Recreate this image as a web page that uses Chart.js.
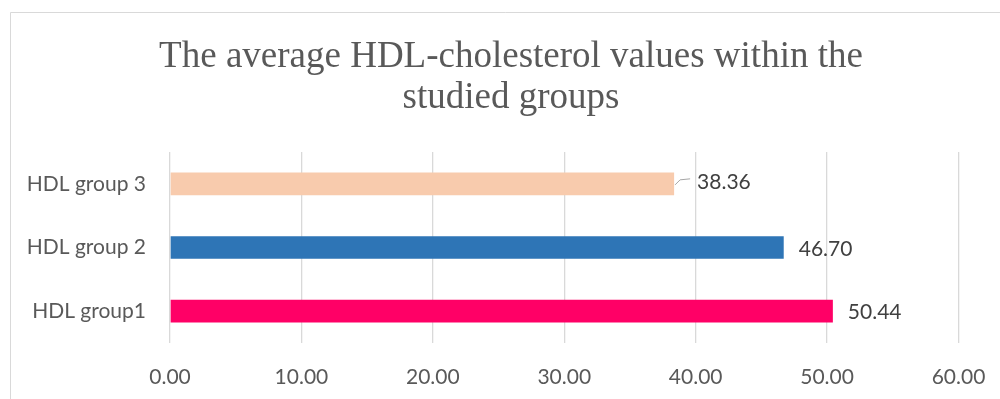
<!DOCTYPE html>
<html>
<head>
<meta charset="utf-8">
<script src="https://cdn.jsdelivr.net/npm/chart.js@4.4.1/dist/chart.umd.min.js"></script>
<style>
  html, body { margin: 0; padding: 0; background: #ffffff; overflow: hidden; }
  #wrap { position: relative; width: 1000px; height: 399px; }
</style>
</head>
<body>
<div id="wrap"><canvas id="chart" width="1000" height="399"></canvas></div>
<script>
// HDL-cholesterol averages per group (top to bottom)
const categories = ['HDL group 3', 'HDL group 2', 'HDL group1'];
const hdlValues = [38.36, 46.70, 50.44];
const barColors = ['#F8CBAD', '#2E75B6', '#FF0066'];
const titleLines = ['The average HDL-cholesterol values within the', 'studied groups'];

const labelFont = 'Lato, "Open Sans", sans-serif';

// White background plus the thin frame around the chart area
const framePlugin = {
  id: 'frame',
  beforeDraw(chart) {
    const ctx = chart.ctx;
    ctx.save();
    ctx.fillStyle = '#ffffff';
    ctx.fillRect(0, 0, chart.width, chart.height);
    ctx.strokeStyle = '#d9d9d9';
    ctx.lineWidth = 1;
    ctx.beginPath();
    ctx.moveTo(10.5, chart.height);
    ctx.lineTo(10.5, 12.5);
    ctx.lineTo(chart.width, 12.5);
    ctx.stroke();
    ctx.restore();
  }
};

// Two-line serif heading, centred on the framed area
const headingPlugin = {
  id: 'heading',
  afterDraw(chart, args, opts) {
    const ctx = chart.ctx;
    ctx.save();
    ctx.font = opts.size + 'px ' + opts.family;
    ctx.fillStyle = opts.color;
    ctx.textAlign = 'center';
    ctx.textBaseline = 'alphabetic';
    opts.lines.forEach((line, i) => {
      ctx.fillText(line, opts.centerX, opts.firstBaseline + i * opts.lineGap);
    });
    ctx.restore();
  }
};

// Value labels at the end of each bar; the first one is pulled aside with a leader line
const valueLabelPlugin = {
  id: 'valueLabels',
  afterDatasetsDraw(chart, args, opts) {
    const ctx = chart.ctx;
    const meta = chart.getDatasetMeta(0);
    ctx.save();
    ctx.font = '21px ' + labelFont;
    ctx.fillStyle = '#404040';
    ctx.textBaseline = 'middle';
    ctx.textAlign = 'left';
    meta.data.forEach((bar, i) => {
      const v = chart.data.datasets[0].data[i];
      const off = opts.offsets[i] || { dx: 15, dy: 0, leader: false };
      const x = bar.x + off.dx;
      const y = bar.y + off.dy;
      if (off.leader) {
        ctx.strokeStyle = '#a6a6a6';
        ctx.lineWidth = 1;
        ctx.beginPath();
        ctx.moveTo(bar.x + 1, bar.y + 1);
        ctx.lineTo(bar.x + 6, bar.y - 4);
        ctx.lineTo(bar.x + 16, bar.y - 5);
        ctx.stroke();
      }
      ctx.fillText(v.toFixed(2), x, y + 1.5);
    });
    ctx.restore();
  }
};

new Chart(document.getElementById('chart'), {
  type: 'bar',
  data: {
    labels: categories,
    datasets: [{
      data: hdlValues,
      backgroundColor: barColors,
      borderWidth: 0,
      categoryPercentage: 1,
      barPercentage: 0.355
    }]
  },
  plugins: [framePlugin, headingPlugin, valueLabelPlugin],
  options: {
    indexAxis: 'y',
    responsive: false,
    animation: false,
    layout: { padding: { left: 20, right: 41.5, top: 152, bottom: 0 } },
    plugins: {
      legend: { display: false },
      tooltip: { enabled: false },
      title: { display: false },
      heading: {
        lines: titleLines,
        family: '"Liberation Serif", "Times New Roman", serif',
        size: 37,
        color: '#595959',
        centerX: 511,
        firstBaseline: 67,
        lineGap: 41
      },
      valueLabels: {
        offsets: [
          { dx: 23, dy: -3, leader: true },
          { dx: 15, dy: 0, leader: false },
          { dx: 15, dy: 0, leader: false }
        ]
      }
    },
    scales: {
      x: {
        min: 0,
        max: 60,
        ticks: {
          stepSize: 10,
          color: '#595959',
          font: { family: labelFont, size: 21, lineHeight: 1.9 },
          padding: 14,
          callback: (v) => Number(v).toFixed(2)
        },
        grid: { color: '#d9d9d9', lineWidth: 1.3, drawTicks: false },
        border: { display: false },
        afterFit(scale) { scale.height = 56; }
      },
      y: {
        ticks: {
          color: '#595959',
          font: { family: labelFont, size: 21 },
          padding: 24
        },
        grid: { display: false, drawTicks: false },
        border: { display: false },
        afterFit(scale) { scale.width = 150; }
      }
    }
  }
});
</script>
</body>
</html>
